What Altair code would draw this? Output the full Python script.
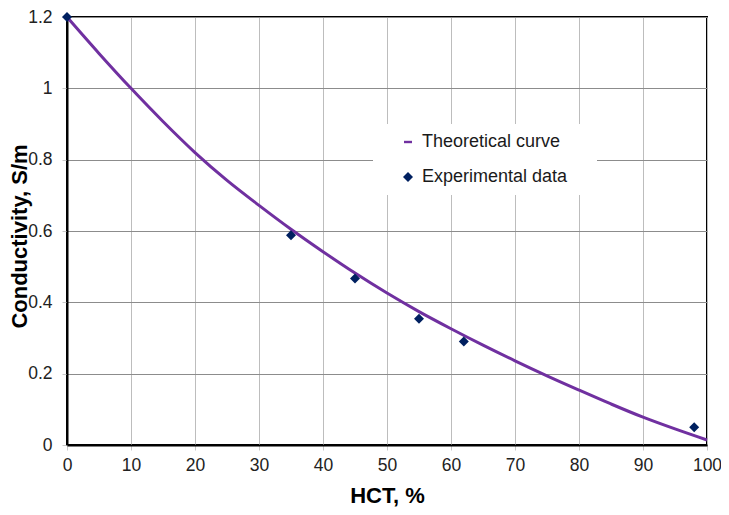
import altair as alt
import pandas as pd

# Theoretical curve
curve_hct = [0, 5, 10, 15, 20, 25, 30, 35, 40, 45, 50, 55, 60, 65, 70, 75, 80, 85, 90, 95, 100]
curve_cond = [1.2, 1.098, 1.0, 0.907, 0.82, 0.742, 0.672, 0.605, 0.542, 0.482, 0.426,
              0.374, 0.326, 0.28, 0.236, 0.194, 0.154, 0.115, 0.078, 0.045, 0.014]

# Experimental data
exp_hct = [0, 35, 45, 55, 62, 98]
exp_cond = [1.2, 0.588, 0.467, 0.354, 0.29, 0.05]

series_names = ["Theoretical curve", "Experimental data"]
series_colors = ["#7030A0", "#002060"]

x_ticks = [0, 10, 20, 30, 40, 50, 60, 70, 80, 90, 100]
y_ticks = [0, 0.2, 0.4, 0.6, 0.8, 1.0, 1.2]

FONT = "Liberation Sans"
DASH = "M-0.8,-0.24 H0.8 V0.24 H-0.8 Z"

curve_df = pd.DataFrame({"hct": curve_hct, "cond": curve_cond})
exp_df = pd.DataFrame({"hct": exp_hct, "cond": exp_cond, "series": series_names[1]})

x_enc = alt.X("hct:Q", scale=alt.Scale(domain=[0, 100], nice=False),
              axis=alt.Axis(values=x_ticks, title="HCT, %", gridColor="#bdbdbd",
                            titleY=57, titleBaseline="alphabetic", titleFontSize=22,
                            labelPadding=6, labelFlush=False))
y_enc = alt.Y("cond:Q", scale=alt.Scale(domain=[0, 1.2], nice=False),
              axis=alt.Axis(values=y_ticks, format="~g", title="Conductivity, S/m",
                            gridColor="#8c8c8c", titleX=-58, titleY=219, titleBaseline="top",
                            titleFontSize=22, labelPadding=10, labelFlush=False))

legend = alt.Legend(
    title="\u00a0", titleOrient="right", titleFontSize=18, titlePadding=21,
    titleFont=FONT,
    orient="none", legendX=306, legendY=107, fillColor="white", padding=9,
    labelFont=FONT, labelFontSize=18, labelColor="#1a1a1a",
    symbolOffset=17, labelOffset=5,
    rowPadding=17, symbolSize=100, symbolStrokeWidth=0,
)

line = alt.Chart(curve_df).mark_line(strokeWidth=3, interpolate="monotone", clip=False).encode(
    x=x_enc, y=y_enc, color=alt.value(series_colors[0])
)

points = alt.Chart(exp_df).mark_point(filled=True, size=100, opacity=1).encode(
    x=x_enc, y=y_enc,
    color=alt.Color("series:N", scale=alt.Scale(domain=series_names, range=series_colors),
                    legend=legend),
    shape=alt.Shape("series:N", scale=alt.Scale(domain=series_names, range=[DASH, "diamond"]),
                    legend=legend),
)

chart = alt.layer(line, points).properties(
    width=640, height=428,
    autosize=alt.AutoSizeParams(type="none"),
    padding={"left": 59, "top": 9, "right": 14, "bottom": 62},
).configure_view(
    stroke="black", strokeWidth=2
).configure_axis(
    domainColor="black", domainWidth=2,
    tickColor="#c8c8c8", tickSize=5,
    labelFont=FONT, labelFontSize=17.5, labelColor="#222222",
    titleFont=FONT, titleFontWeight="bold", titleColor="black",
    grid=True, gridWidth=1,
)

chart.save("out.html", embed_options={"renderer": "svg", "actions": False})
